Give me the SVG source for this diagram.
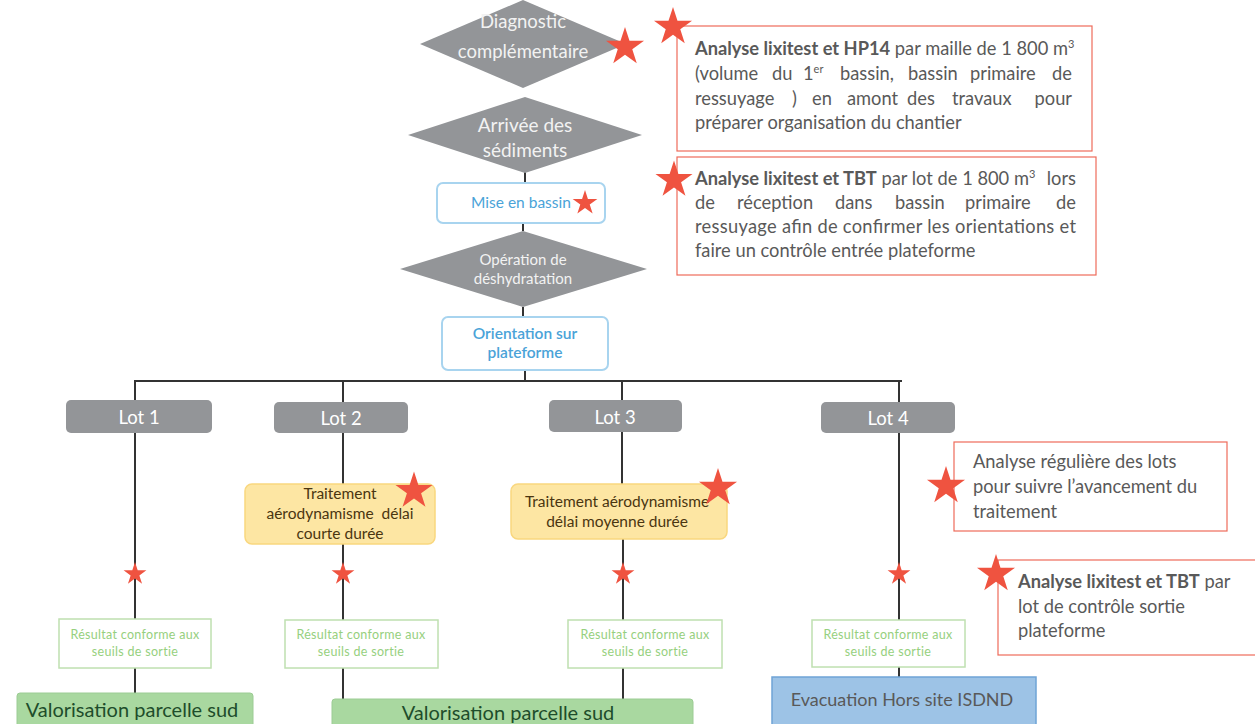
<svg xmlns="http://www.w3.org/2000/svg" xmlns:xlink="http://www.w3.org/1999/xlink" width="1255" height="724" viewBox="0 0 1255 724">
<defs>
<path id="star" d="M0,-10 L2.245,-3.09 L9.511,-3.09 L3.633,1.18 L5.878,8.09 L0,3.82 L-5.878,8.09 L-3.633,1.18 L-9.511,-3.09 L-2.245,-3.09 Z" fill="#ef5340"/>
<style>
text{font-family:Lato,"Liberation Sans",sans-serif;}
.dia{fill:#939598;}
.dtxt{fill:#f2f2f2;text-anchor:middle;}
.bluebox{fill:#ffffff;stroke:#a8d4ef;stroke-width:2;}
.btxt{fill:#4aa3d8;text-anchor:middle;font-size:15.5px;}
.lot{fill:#939598;}
.lottxt{fill:#ffffff;text-anchor:middle;font-size:18.5px;}
.trait{fill:#fde6a3;stroke:#f9d77f;stroke-width:1.5;}
.ttxt{fill:#4a3510;text-anchor:middle;font-size:15.5px;}
.res{fill:#ffffff;stroke:#bfe0b0;stroke-width:1.5;}
.rtxt{fill:#96d07e;text-anchor:middle;font-size:12.5px;letter-spacing:0.3px;}
.valo{fill:#a9d8a0;stroke:#9ccc94;stroke-width:1;}
.vtxt{fill:#1e4d2b;text-anchor:middle;font-size:20px;}
.note{fill:#ffffff;stroke:#ee6b5a;stroke-width:1.2;}
.ntxt{fill:#595959;font-size:18.3px;}
.b{font-weight:bold;}
.conn{stroke:#333333;stroke-width:2;fill:none;}
</style>
</defs>
<rect width="1255" height="724" fill="#ffffff"/>

<g id="connectors">
<line class="conn" x1="525" y1="172" x2="525" y2="183"/>
<line class="conn" x1="523" y1="223" x2="523" y2="231"/>
<line class="conn" x1="523" y1="307" x2="523" y2="317"/>
<line class="conn" x1="525" y1="370" x2="525" y2="381"/>
<line class="conn" x1="134" y1="381" x2="902" y2="381"/>
<line class="conn" x1="135" y1="381" x2="135" y2="400"/>
<line class="conn" x1="135" y1="433" x2="135" y2="619"/>
<line class="conn" x1="135" y1="668" x2="135" y2="693"/>
<line class="conn" x1="343" y1="381" x2="343" y2="402"/>
<line class="conn" x1="343" y1="433" x2="343" y2="484"/>
<line class="conn" x1="343" y1="544" x2="343" y2="620"/>
<line class="conn" x1="343" y1="668" x2="343" y2="699"/>
<line class="conn" x1="622" y1="381" x2="622" y2="400"/>
<line class="conn" x1="622" y1="432" x2="622" y2="484"/>
<line class="conn" x1="623" y1="539" x2="623" y2="620"/>
<line class="conn" x1="623" y1="668" x2="623" y2="699"/>
<line class="conn" x1="899" y1="381" x2="899" y2="402"/>
<line class="conn" x1="899" y1="433" x2="899" y2="620"/>
<line class="conn" x1="899" y1="667" x2="899" y2="677"/>
</g>

<g id="diag">
<polygon class="dia" points="523,0 626,44 523,88 420,44"/>
<text class="dtxt" x="523" y="28" font-size="18.5">Diagnostic</text>
<text class="dtxt" x="523" y="58" font-size="18.5">complémentaire</text>
<use xlink:href="#star" transform="translate(625,47) scale(2)"/>
</g>

<g id="arrivee">
<polygon class="dia" points="525,97 642,135 525,173 408,135"/>
<text class="dtxt" x="525" y="132" font-size="19" fill="#e8e8e8">Arrivée des</text>
<text class="dtxt" x="525" y="157" font-size="19" fill="#e8e8e8">sédiments</text>
</g>

<g id="mise">
<rect class="bluebox" x="437" y="183" width="168" height="40" rx="6"/>
<text class="btxt" x="521" y="208">Mise en bassin</text>
<use xlink:href="#star" transform="translate(585,203) scale(1.3)"/>
</g>

<g id="deshydratation">
<polygon class="dia" points="523,231 647,269 523,307 400,269"/>
<text class="dtxt" x="523" y="265" font-size="15" fill="#e8e8e8">Opération de</text>
<text class="dtxt" x="523" y="284" font-size="15" fill="#e8e8e8">déshydratation</text>
</g>

<g id="orientation">
<rect class="bluebox" x="442" y="317" width="166" height="53" rx="6"/>
<text class="btxt" x="525" y="339" font-weight="600">Orientation sur</text>
<text class="btxt" x="525" y="358" font-weight="600">plateforme</text>
</g>

<g id="lot1">
<rect class="lot" x="66" y="400" width="146" height="33" rx="5"/>
<text class="lottxt" x="139" y="424">Lot 1</text>
</g>
<g id="lot2">
<rect class="lot" x="274" y="402" width="134" height="31" rx="5"/>
<text class="lottxt" x="341" y="425">Lot 2</text>
</g>
<g id="lot3">
<rect class="lot" x="549" y="400" width="133" height="32" rx="5"/>
<text class="lottxt" x="615" y="424">Lot 3</text>
</g>
<g id="lot4">
<rect class="lot" x="821" y="402" width="134" height="31" rx="5"/>
<text class="lottxt" x="888" y="425">Lot 4</text>
</g>

<g id="traitement1">
<rect class="trait" x="245" y="484" width="190" height="60" rx="7"/>
<text class="ttxt" x="340" y="499">Traitement</text>
<text class="ttxt" x="340" y="519" xml:space="preserve">aérodynamisme  délai</text>
<text class="ttxt" x="340" y="539">courte durée</text>
<use xlink:href="#star" transform="translate(414,491) scale(1.95)"/>
</g>

<g id="traitement2">
<rect class="trait" x="511" y="484" width="216" height="55" rx="7"/>
<text class="ttxt" x="617" y="507">Traitement aérodynamisme</text>
<text class="ttxt" x="617" y="527">délai moyenne durée</text>
<use xlink:href="#star" transform="translate(718,488) scale(2)"/>
</g>

<g id="stars-lots">
<use xlink:href="#star" transform="translate(135,574) scale(1.2)"/>
<use xlink:href="#star" transform="translate(343,574) scale(1.2)"/>
<use xlink:href="#star" transform="translate(623,574) scale(1.2)"/>
<use xlink:href="#star" transform="translate(899,574) scale(1.2)"/>
</g>

<g id="resultat1">
<rect class="res" x="59" y="619" width="152" height="49"/>
<text class="rtxt" x="135" y="639">Résultat conforme aux</text>
<text class="rtxt" x="135" y="656">seuils de sortie</text>
</g>
<g id="resultat2">
<rect class="res" x="285" y="620" width="153" height="48"/>
<text class="rtxt" x="361" y="639">Résultat conforme aux</text>
<text class="rtxt" x="361" y="656">seuils de sortie</text>
</g>
<g id="resultat3">
<rect class="res" x="568" y="620" width="154" height="48"/>
<text class="rtxt" x="645" y="639">Résultat conforme aux</text>
<text class="rtxt" x="645" y="656">seuils de sortie</text>
</g>
<g id="resultat4">
<rect class="res" x="812" y="620" width="153" height="47"/>
<text class="rtxt" x="888" y="639">Résultat conforme aux</text>
<text class="rtxt" x="888" y="656">seuils de sortie</text>
</g>

<g id="valorisation1">
<rect class="valo" x="17" y="693" width="236" height="34" rx="3"/>
<text class="vtxt" x="132" y="717">Valorisation parcelle sud</text>
</g>
<g id="valorisation2">
<rect class="valo" x="332" y="699" width="361" height="30" rx="3"/>
<text class="vtxt" x="508" y="720">Valorisation parcelle sud</text>
</g>
<g id="evacuation">
<rect x="772" y="677" width="264" height="50" fill="#9dc3e6" stroke="#6fa4d6" stroke-width="1.5"/>
<text x="902" y="706" text-anchor="middle" fill="#595959" font-size="18">Evacuation Hors site ISDND</text>
</g>

<g id="note1">
<rect class="note" x="677" y="26" width="415" height="125"/>
<text class="ntxt" y="55"><tspan x="695" class="b">Analyse lixitest et HP14</tspan><tspan> par maille de 1 800 m</tspan><tspan font-size="11" dy="-7">3</tspan></text>
<text class="ntxt" y="80"><tspan x="695">(volume</tspan><tspan x="772">du</tspan><tspan x="803">1</tspan><tspan font-size="11" dy="-7">er</tspan><tspan x="840" dy="7">bassin,</tspan><tspan x="908">bassin</tspan><tspan x="970">primaire</tspan><tspan x="1072" text-anchor="end">de</tspan></text>
<text class="ntxt" y="105"><tspan x="695">ressuyage</tspan><tspan x="792">)</tspan><tspan x="812">en</tspan><tspan x="847">amont</tspan><tspan x="907">des</tspan><tspan x="952">travaux</tspan><tspan x="1072" text-anchor="end">pour</tspan></text>
<text class="ntxt" x="695" y="129">préparer organisation du chantier</text>
<use xlink:href="#star" transform="translate(673,27) scale(2)"/>
</g>

<g id="note2">
<rect class="note" x="677" y="157" width="419" height="118"/>
<text class="ntxt" y="185"><tspan x="695" class="b">Analyse lixitest et TBT</tspan><tspan> par lot de 1 800 m</tspan><tspan font-size="11" dy="-7">3</tspan><tspan x="1076" dy="7" text-anchor="end">lors</tspan></text>
<text class="ntxt" y="209"><tspan x="695">de</tspan><tspan x="737">réception</tspan><tspan x="835">dans</tspan><tspan x="895">bassin</tspan><tspan x="965">primaire</tspan><tspan x="1076" text-anchor="end">de</tspan></text>
<text class="ntxt" x="695" y="233" textLength="381" lengthAdjust="spacing">ressuyage afin de confirmer les orientations et</text>
<text class="ntxt" x="695" y="257">faire un contrôle entrée plateforme</text>
<use xlink:href="#star" transform="translate(674,180) scale(1.95)"/>
</g>

<g id="note3">
<rect class="note" x="954" y="442" width="273" height="89"/>
<text class="ntxt" x="973" y="468">Analyse régulière des lots</text>
<text class="ntxt" x="973" y="493">pour suivre l’avancement du</text>
<text class="ntxt" x="973" y="518">traitement</text>
<use xlink:href="#star" transform="translate(946,486) scale(2)"/>
</g>

<g id="note4">
<rect class="note" x="998" y="560" width="262" height="95"/>
<text class="ntxt" y="588"><tspan x="1018" class="b">Analyse lixitest et TBT</tspan><tspan> par</tspan></text>
<text class="ntxt" x="1018" y="613">lot de contrôle sortie</text>
<text class="ntxt" x="1018" y="637">plateforme</text>
<use xlink:href="#star" transform="translate(996,574) scale(2)"/>
</g>
</svg>
